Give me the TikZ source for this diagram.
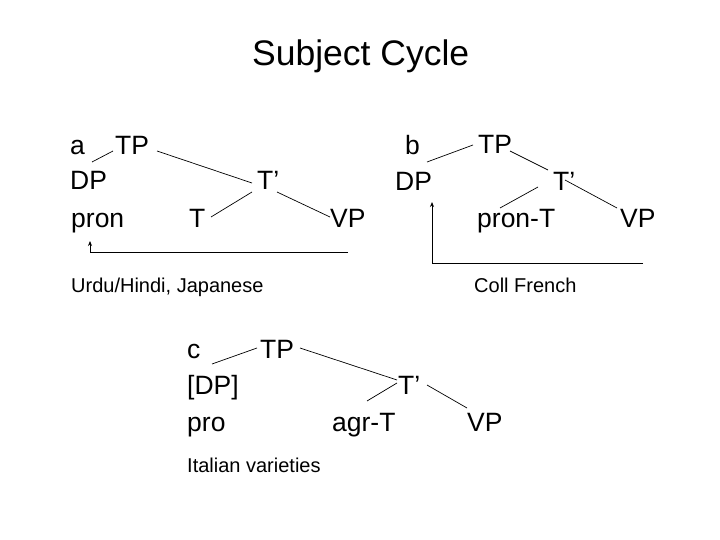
\documentclass[tikz,border=0pt]{standalone}
\usepackage{fontspec}
\setmainfont{Liberation Sans}
\usetikzlibrary{arrows.meta}
\begin{document}
\begin{tikzpicture}[x=1pt,y=-1pt,
  lab/.style={font=\fontsize{26.5}{30}\selectfont, inner sep=0pt, anchor=base west},
  small/.style={font=\fontsize{20}{22}\selectfont, inner sep=0pt, anchor=base west},
  br/.style={draw=black, line width=0.7pt},
  mv/.style={draw=black, line width=0.9pt, -{Stealth[length=5pt,width=4pt]}}]
\useasboundingbox (0,0) rectangle (720,540);
\node[font=\fontsize{35.5}{40}\selectfont, inner sep=0pt, anchor=base west] (title) at (252,66) {Subject Cycle};
% tree a
\node[lab] (aa) at (70,155) {a};
\node[lab] (aTP) at (115,155) {TP};
\node[lab] (aDP) at (70,190) {DP};
\node[lab] (apron) at (71,227) {pron};
\node[lab] (aTb) at (257,190) {T’};
\node[lab] (aT) at (189,227) {T};
\node[lab] (aVP) at (330,227) {VP};
\draw[br] ([shift={(22,-28)}]aDP.base west) -- ([shift={(-2,-4)}]aTP.base west);
\draw[br] ([shift={(42,-4)}]aTP.base west) -- ([shift={(-5,-7)}]aTb.base west);
\draw[br] ([shift={(-5,2)}]aTb.base west) -- ([shift={(22,-10)}]aT.base west);
\draw[br] ([shift={(20,2)}]aTb.base west) -- ([shift={(0,-10)}]aVP.base west);
\coordinate (ae) at (348,252);
\coordinate (ac) at (90,252);
\coordinate (at) at (90,241);
\draw[mv] (ae) -- (ac) -- (at);
\node[small] (aurdu) at (71,292) {Urdu/Hindi, Japanese};
% tree b
\node[lab] (bb) at (405,155) {b};
\node[lab] (bTP) at (478,154) {TP};
\node[lab] (bDP) at (395,191) {DP};
\node[lab] (bTb) at (553,191) {T’};
\node[lab] (bpron) at (477,228) {pron-T};
\node[lab] (bVP) at (620,228) {VP};
\draw[br] ([shift={(32,-29)}]bDP.base west) -- ([shift={(-5,-9)}]bTP.base west);
\draw[br] ([shift={(32,-3)}]bTP.base west) -- ([shift={(-5,-21)}]bTb.base west);
\draw[br] ([shift={(-15,-4)}]bTb.base west) -- ([shift={(23,-20)}]bpron.base west);
\draw[br] ([shift={(12,-11)}]bTb.base west) -- ([shift={(-3,-20)}]bVP.base west);
\coordinate (be) at (643,263);
\coordinate (bc) at (432,263);
\coordinate (bt) at (432,202);
\draw[mv] (be) -- (bc) -- (bt);
\node[small] (bcoll) at (474,292) {Coll French};
% tree c
\node[lab] (cc) at (187,358) {c};
\node[lab] (cTP) at (260,358) {TP};
\node[lab] (cDP) at (187,394) {[DP]};
\node[lab] (cpro) at (187,431) {pro};
\node[lab] (cTb) at (398,394) {T’};
\node[lab] (cagr) at (332,431) {agr-T};
\node[lab] (cVP) at (467,431) {VP};
\draw[br] ([shift={(25,-30)}]cDP.base west) -- ([shift={(-3,-10)}]cTP.base west);
\draw[br] ([shift={(40,-10)}]cTP.base west) -- ([shift={(-1,-14)}]cTb.base west);
\draw[br] ([shift={(-1,-11)}]cTb.base west) -- ([shift={(35,-30)}]cagr.base west);
\draw[br] ([shift={(29,-9)}]cTb.base west) -- ([shift={(0,-23)}]cVP.base west);
\node[small] (cital) at (187,472) {Italian varieties};
\end{tikzpicture}
\end{document}
